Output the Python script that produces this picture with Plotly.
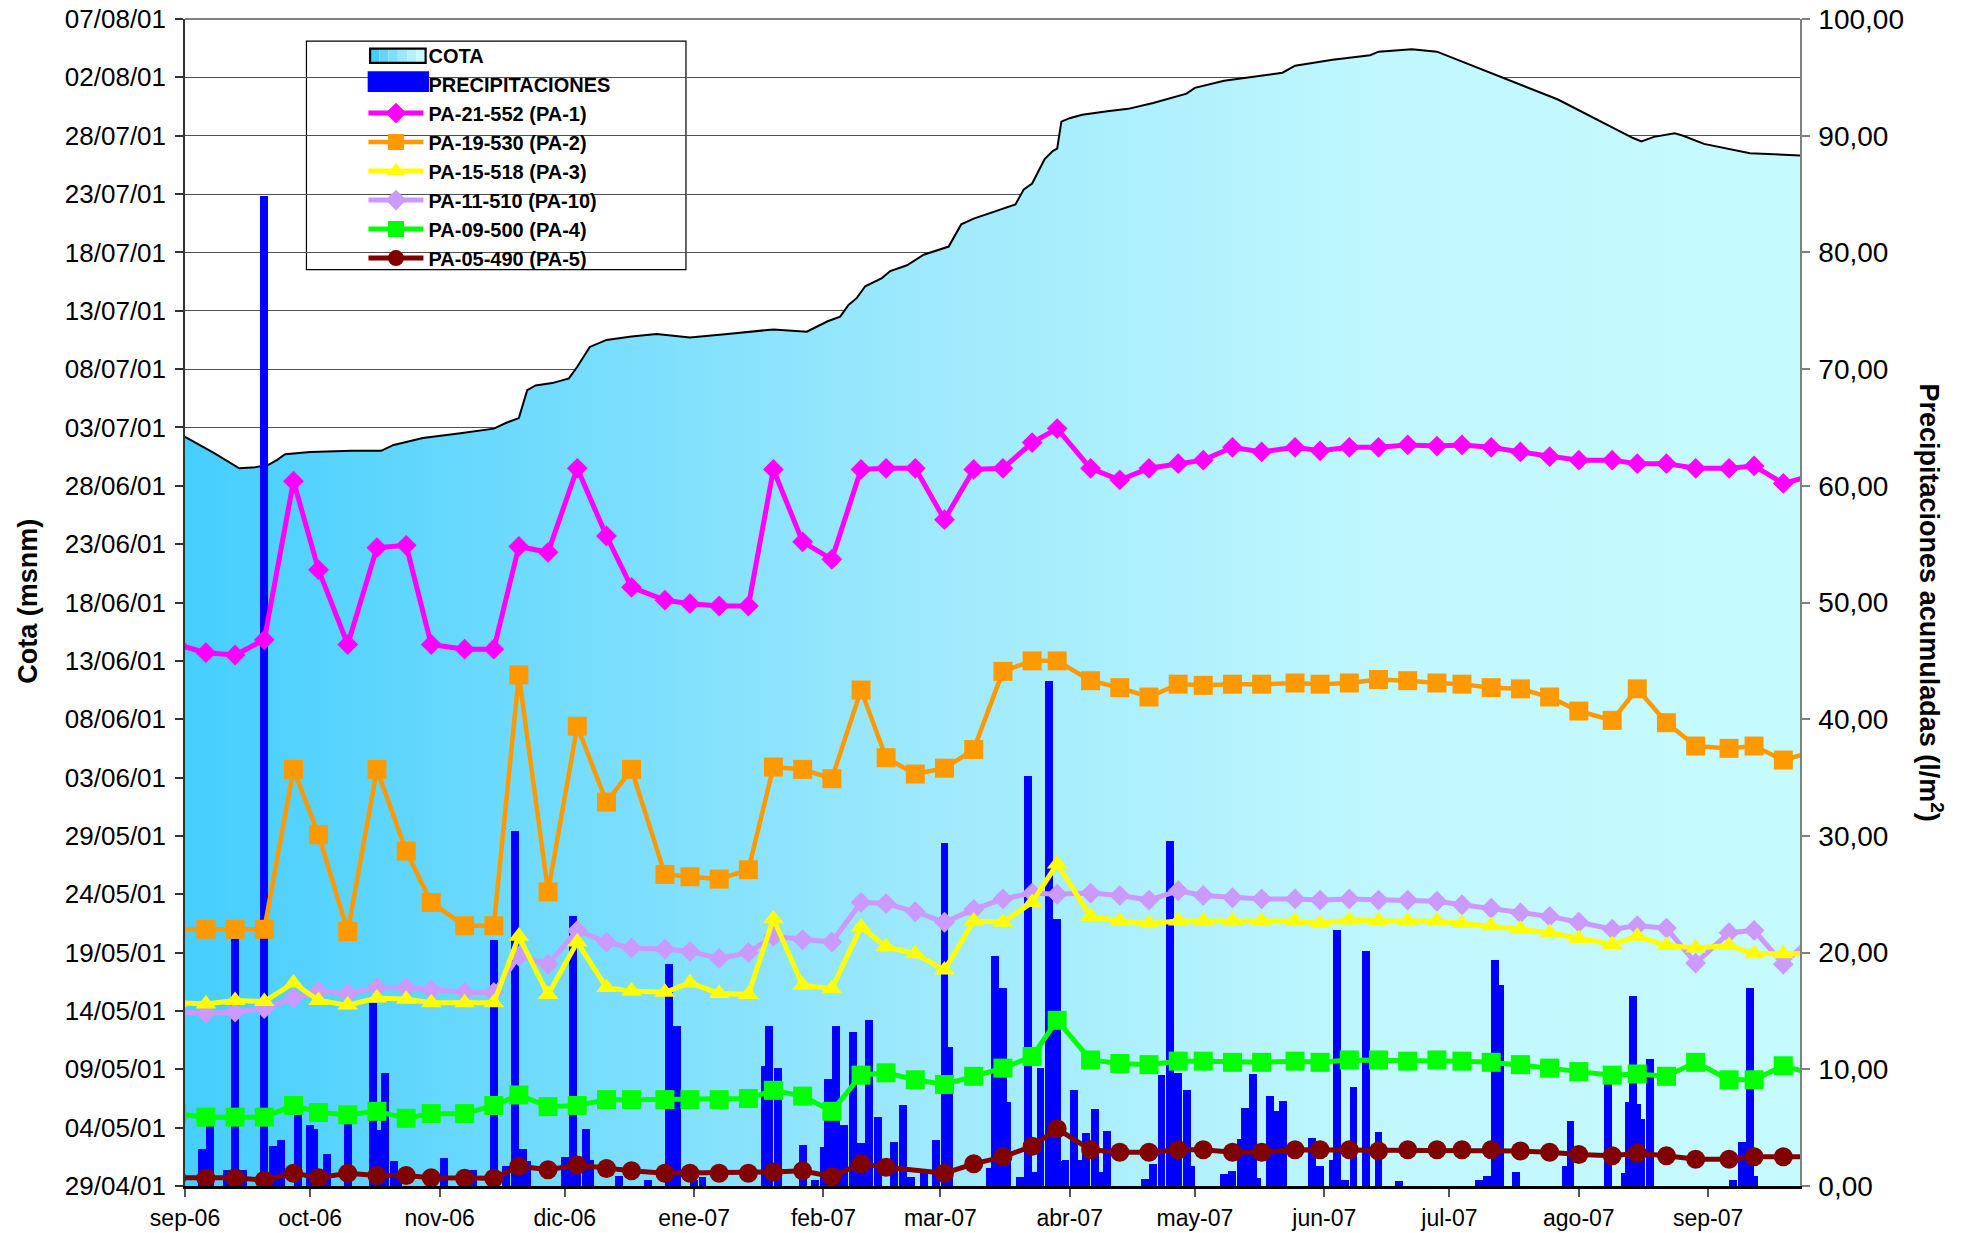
import plotly.graph_objects as go

# ---------------- axis labels ----------------
month_ticks = ["2006-09-01", "2006-10-01", "2006-11-01", "2006-12-01", "2007-01-01", "2007-02-01",
               "2007-03-01", "2007-04-01", "2007-05-01", "2007-06-01", "2007-07-01", "2007-08-01",
               "2007-09-01"]
month_labels = ["sep-06", "oct-06", "nov-06", "dic-06", "ene-07", "feb-07", "mar-07", "abr-07",
                "may-07", "jun-07", "jul-07", "ago-07", "sep-07"]

cota_ticks = [37010, 37015, 37020, 37025, 37030, 37035, 37040, 37045, 37050, 37055, 37060,
              37065, 37070, 37075, 37080, 37085, 37090, 37095, 37100, 37105, 37110]
cota_labels = ["29/04/01", "04/05/01", "09/05/01", "14/05/01", "19/05/01", "24/05/01", "29/05/01",
               "03/06/01", "08/06/01", "13/06/01", "18/06/01", "23/06/01", "28/06/01", "03/07/01",
               "08/07/01", "13/07/01", "18/07/01", "23/07/01", "28/07/01", "02/08/01", "07/08/01"]

precip_ticks = [0, 10, 20, 30, 40, 50, 60, 70, 80, 90, 100]

# ---------------- COTA (reservoir level) ----------------
cota_dates = ["2006-09-01", "2006-09-08", "2006-09-14", "2006-09-18", "2006-09-21", "2006-09-23",
              "2006-09-25", "2006-10-01", "2006-10-11", "2006-10-18", "2006-10-21", "2006-10-28",
              "2006-11-06", "2006-11-14", "2006-11-17", "2006-11-20", "2006-11-22", "2006-11-24",
              "2006-11-28", "2006-12-02", "2006-12-04", "2006-12-07", "2006-12-11", "2006-12-17",
              "2006-12-23", "2006-12-26", "2006-12-31", "2007-01-09", "2007-01-20", "2007-01-28",
              "2007-02-02", "2007-02-05", "2007-02-07", "2007-02-09", "2007-02-11", "2007-02-15",
              "2007-02-17", "2007-02-21", "2007-02-25", "2007-03-03", "2007-03-06", "2007-03-09",
              "2007-03-19", "2007-03-21", "2007-03-23", "2007-03-26", "2007-03-28", "2007-03-29",
              "2007-03-30", "2007-04-01", "2007-04-04", "2007-04-10", "2007-04-15", "2007-04-21",
              "2007-04-29", "2007-05-01", "2007-05-08", "2007-05-22", "2007-05-25", "2007-06-03",
              "2007-06-12", "2007-06-14", "2007-06-22", "2007-06-28", "2007-07-05", "2007-07-12",
              "2007-07-25", "2007-07-27", "2007-08-14", "2007-08-16", "2007-08-19", "2007-08-24",
              "2007-08-26", "2007-08-31", "2007-09-11", "2007-09-16", "2007-09-23"]
cota_values = [37074.2, 37072.8, 37071.5, 37071.6, 37071.8, 37072.2, 37072.7, 37072.9, 37073.0,
               37073.0, 37073.5, 37074.1, 37074.5, 37074.9, 37075.4, 37075.8, 37078.2, 37078.6,
               37078.8, 37079.2, 37080.2, 37081.9, 37082.5, 37082.8, 37083.0, 37082.9, 37082.7,
               37083.0, 37083.4, 37083.2, 37084.1, 37084.5, 37085.5, 37086.1, 37087.1, 37087.8,
               37088.4, 37088.9, 37089.8, 37090.5, 37092.4, 37092.9, 37094.1, 37095.4, 37095.9,
               37098.0, 37098.7, 37098.9, 37101.2, 37101.5, 37101.8, 37102.1, 37102.3, 37102.8,
               37103.6, 37104.1, 37104.7, 37105.4, 37106.0, 37106.5, 37106.9, 37107.2, 37107.4,
               37107.2, 37106.2, 37105.2, 37103.4, 37103.1, 37099.8, 37099.5, 37099.9, 37100.2,
               37100.0, 37099.3, 37098.5, 37098.4, 37098.3]

# ---------------- Daily precipitation (l/m2) ----------------
precip_dates = ["2006-09-05", "2006-09-07", "2006-09-11", "2006-09-13", "2006-09-15", "2006-09-20",
                "2006-09-22", "2006-09-24", "2006-09-28", "2006-10-01", "2006-10-02", "2006-10-04",
                "2006-10-05", "2006-10-10", "2006-10-16", "2006-10-17", "2006-10-19", "2006-10-21",
                "2006-10-22", "2006-11-02", "2006-11-09", "2006-11-14", "2006-11-17", "2006-11-19",
                "2006-11-21", "2006-11-22", "2006-12-01", "2006-12-03", "2006-12-04", "2006-12-06",
                "2006-12-07", "2006-12-14", "2006-12-21", "2006-12-26", "2006-12-28", "2007-01-01",
                "2007-01-03", "2007-01-18", "2007-01-19", "2007-01-21", "2007-01-27", "2007-01-30",
                "2007-02-01", "2007-02-02", "2007-02-04", "2007-02-06", "2007-02-08", "2007-02-10",
                "2007-02-12", "2007-02-14", "2007-02-18", "2007-02-20", "2007-02-22", "2007-02-25",
                "2007-02-28", "2007-03-02", "2007-03-03", "2007-03-13", "2007-03-14", "2007-03-16",
                "2007-03-17", "2007-03-20", "2007-03-22", "2007-03-24", "2007-03-25", "2007-03-27",
                "2007-03-29", "2007-03-30", "2007-03-31", "2007-04-02", "2007-04-04", "2007-04-05",
                "2007-04-07", "2007-04-08", "2007-04-10", "2007-04-19", "2007-04-21", "2007-04-23",
                "2007-04-25", "2007-04-26", "2007-04-27", "2007-04-29", "2007-04-30", "2007-05-08",
                "2007-05-10", "2007-05-12", "2007-05-13", "2007-05-15", "2007-05-16", "2007-05-19",
                "2007-05-21", "2007-05-22", "2007-05-29", "2007-05-31", "2007-06-03", "2007-06-04",
                "2007-06-06", "2007-06-08", "2007-06-11", "2007-06-14", "2007-06-19", "2007-07-08",
                "2007-07-10", "2007-07-12", "2007-07-13", "2007-07-17", "2007-07-29", "2007-07-30",
                "2007-08-08", "2007-08-12", "2007-08-13", "2007-08-14", "2007-08-15", "2007-08-16",
                "2007-08-18", "2007-09-07", "2007-09-09", "2007-09-11", "2007-09-12"]
precip_values = [3.2, 5.1, 1.4, 21.2, 1.4, 84.8,
                 3.4, 3.9, 7.4, 5.2, 4.9, 0.8,
                 2.7, 5.5, 15.7, 4.8, 9.7, 2.1,
                 0.8, 2.4, 1.4, 21.1, 1.7, 30.4,
                 3.2, 2.1, 2.5, 23.1, 2.5, 4.9,
                 2.2, 0.9, 0.5, 19.0, 13.7, 0.5,
                 0.8, 10.3, 13.7, 10.1, 3.5, 0.5,
                 3.3, 9.2, 13.7, 5.2, 13.2, 3.7,
                 14.2, 5.9, 3.8, 6.9, 0.8, 1.1,
                 3.9, 29.4, 11.9, 1.5, 19.7, 17.0,
                 7.2, 0.8, 35.1, 1.2, 10.1, 43.3,
                 22.9, 2.1, 2.2, 8.2, 2.2, 4.5,
                 6.6, 1.2, 4.7, 0.6, 1.9, 9.5,
                 29.6, 8.7, 9.7, 8.2, 1.7, 1.0,
                 1.3, 4.0, 6.7, 9.6, 0.7, 7.7,
                 6.4, 7.3, 4.1, 1.7, 2.2, 21.9,
                 0.5, 8.5, 20.1, 4.6, 0.4, 0.5,
                 0.9, 19.4, 17.2, 1.2, 1.7, 5.6,
                 8.9, 1.1, 7.2, 16.3, 7.0, 5.7,
                 10.9, 0.5, 3.8, 17.0, 0.9]

# ---------------- Piezometer readings (same scale as COTA) ----------------
piezo_dates = ["2006-08-30", "2006-09-06", "2006-09-13", "2006-09-20", "2006-09-27", "2006-10-03",
               "2006-10-10", "2006-10-17", "2006-10-24", "2006-10-30", "2006-11-07", "2006-11-14",
               "2006-11-20", "2006-11-27", "2006-12-04", "2006-12-11", "2006-12-17", "2006-12-25",
               "2006-12-31", "2007-01-07", "2007-01-14", "2007-01-20", "2007-01-27", "2007-02-03",
               "2007-02-10", "2007-02-16", "2007-02-23", "2007-03-02", "2007-03-09", "2007-03-16",
               "2007-03-23", "2007-03-29", "2007-04-06", "2007-04-13", "2007-04-20", "2007-04-27",
               "2007-05-03", "2007-05-10", "2007-05-17", "2007-05-25", "2007-05-31", "2007-06-07",
               "2007-06-14", "2007-06-21", "2007-06-28", "2007-07-04", "2007-07-11", "2007-07-18",
               "2007-07-25", "2007-08-01", "2007-08-09", "2007-08-15", "2007-08-22", "2007-08-29",
               "2007-09-06", "2007-09-12", "2007-09-19", "2007-09-26"]

pa1_values = [37056.4, 37055.7, 37055.5, 37056.8, 37070.4, 37062.8, 37056.4, 37064.7, 37064.9,
              37056.4, 37056.0, 37056.0, 37064.8, 37064.3, 37071.5, 37065.7, 37061.3, 37060.2,
              37059.9, 37059.7, 37059.7, 37071.4, 37065.2, 37063.7, 37071.4, 37071.5, 37071.5,
              37067.1, 37071.4, 37071.5, 37073.7, 37074.9, 37071.5, 37070.5, 37071.5, 37071.9,
              37072.2, 37073.3, 37072.9, 37073.3, 37073.0, 37073.3, 37073.3, 37073.5, 37073.4,
              37073.5, 37073.3, 37072.9, 37072.5, 37072.2, 37072.2, 37071.9, 37071.9, 37071.5,
              37071.5, 37071.7, 37070.2, 37070.9]
pa2_values = [37032.0, 37032.0, 37032.0, 37032.0, 37045.7, 37040.1, 37031.8, 37045.7, 37038.7,
              37034.3, 37032.3, 37032.3, 37053.8, 37035.2, 37049.4, 37042.9, 37045.7, 37036.7,
              37036.5, 37036.3, 37037.1, 37045.9, 37045.7, 37044.9, 37052.5, 37046.7, 37045.3,
              37045.8, 37047.4, 37054.1, 37055.0, 37055.0, 37053.3, 37052.7, 37051.9, 37053.0,
              37052.9, 37053.0, 37053.0, 37053.1, 37053.0, 37053.1, 37053.4, 37053.3, 37053.1,
              37053.0, 37052.7, 37052.6, 37051.9, 37050.7, 37049.9, 37052.6, 37049.7, 37047.7,
              37047.5, 37047.7, 37046.5, 37047.2]
pa3_values = [37025.7, 37025.6, 37025.9, 37025.8, 37027.4, 37025.9, 37025.5, 37026.1, 37026.0,
              37025.7, 37025.7, 37025.7, 37031.4, 37026.4, 37030.9, 37027.0, 37026.7, 37026.6,
              37027.4, 37026.5, 37026.4, 37032.9, 37027.2, 37026.9, 37032.2, 37030.5, 37029.9,
              37028.5, 37032.7, 37032.6, 37034.3, 37037.6, 37033.1, 37032.7, 37032.5, 37032.7,
              37032.7, 37032.7, 37032.7, 37032.7, 37032.5, 37032.8, 37032.7, 37032.7, 37032.7,
              37032.5, 37032.3, 37032.0, 37031.7, 37031.2, 37030.7, 37031.4, 37030.6, 37030.4,
              37030.6, 37029.9, 37029.9, 37029.9]
pa10_values = [37024.9, 37024.8, 37024.9, 37025.2, 37026.1, 37026.7, 37026.5, 37027.0, 37027.0,
               37026.8, 37026.6, 37026.6, 37029.7, 37029.0, 37031.9, 37030.9, 37030.4, 37030.3,
               37030.1, 37029.5, 37030.0, 37031.4, 37031.1, 37030.9, 37034.3, 37034.2, 37033.5,
               37032.6, 37033.7, 37034.6, 37035.1, 37035.0, 37035.1, 37034.9, 37034.5, 37035.3,
               37034.9, 37034.7, 37034.6, 37034.6, 37034.5, 37034.6, 37034.5, 37034.5, 37034.4,
               37034.1, 37033.8, 37033.4, 37033.1, 37032.6, 37032.0, 37032.3, 37032.1, 37029.1,
               37031.7, 37031.9, 37029.0, 37031.4]
pa4_values = [37016.2, 37015.9, 37015.9, 37015.9, 37016.9, 37016.3, 37016.1, 37016.4, 37015.8,
              37016.2, 37016.2, 37016.9, 37017.8, 37016.8, 37016.9, 37017.4, 37017.4, 37017.4,
              37017.4, 37017.4, 37017.5, 37018.2, 37017.7, 37016.4, 37019.5, 37019.7, 37019.1,
              37018.7, 37019.4, 37020.1, 37021.1, 37024.2, 37020.8, 37020.5, 37020.4, 37020.7,
              37020.7, 37020.6, 37020.6, 37020.7, 37020.6, 37020.8, 37020.8, 37020.7, 37020.8,
              37020.7, 37020.6, 37020.4, 37020.1, 37019.8, 37019.5, 37019.6, 37019.4, 37020.6,
              37019.1, 37019.1, 37020.3, 37019.6]
pa5_values = [37010.7, 37010.66, 37010.7, 37010.5, 37011.1, 37010.7, 37011.1, 37010.9, 37010.9,
              37010.7, 37010.66, 37010.66, 37011.7, 37011.4, 37011.8, 37011.5, 37011.3, 37011.1,
              37011.1, 37011.1, 37011.1, 37011.2, 37011.3, 37010.8, 37011.9, 37011.6, None,
              37011.1, 37011.9, 37012.5, 37013.4, 37014.9, 37013.1, 37012.9, 37012.9, 37013.1,
              37013.1, 37012.9, 37012.9, 37013.1, 37013.1, 37013.1, 37013.0, 37013.1, 37013.1,
              37013.1, 37013.1, 37013.0, 37012.9, 37012.7, 37012.6, 37012.8, 37012.6, 37012.3,
              37012.3, 37012.5, 37012.5, 37012.5]

FONT = "Liberation Sans, Arial, sans-serif"
DAY_MS = 86400000
GRAD = ["#46CEFD", "#62D6FD", "#7EDFFC", "#9AE8FC", "#B2F1FD", "#C6FBFE"]

fig = go.Figure()

# COTA area (left axis, bottom layer)
fig.add_trace(go.Scatter(
    x=cota_dates, y=cota_values, name="COTA", mode="lines", yaxis="y",
    line=dict(color="black", width=2),
    fill="tozeroy",
    fillgradient=dict(type="horizontal",
                      colorscale=[[0.0, "#46CEFD"], [0.45, "#9DE9FC"],
                                  [0.75, "#C1F8FE"], [1.0, "#C6FBFE"]]),
    showlegend=False,
))

# Precipitation bars (right axis)
fig.add_trace(go.Bar(
    x=precip_dates, y=precip_values, name="PRECIPITACIONES", yaxis="y2",
    width=1.9 * DAY_MS, marker=dict(color="#0000FF", line=dict(width=0)),
    showlegend=False,
))

# legend entries for the two area/bar series (their swatches are drawn as shapes below)
for nm, rank in [("COTA", 1), ("PRECIPITACIONES", 2)]:
    fig.add_trace(go.Scatter(x=[None], y=[None], name=nm, mode="lines", yaxis="y3",
                             line=dict(color="rgba(0,0,0,0)", width=0), legendrank=rank,
                             hoverinfo="skip"))

series = [
    ("PA-21-552 (PA-1)", pa1_values, "#FF00FF", "diamond", 16, 5.0, 3),
    ("PA-19-530 (PA-2)", pa2_values, "#FF9900", "square", 19, 4.5, 4),
    ("PA-11-510 (PA-10)", pa10_values, "#CC99FF", "diamond", 16, 5.0, 6),
    ("PA-15-518 (PA-3)", pa3_values, "#FFFF00", "triangle-up", 18, 5.0, 5),
    ("PA-09-500 (PA-4)", pa4_values, "#00FF00", "square", 19, 5.0, 7),
    ("PA-05-490 (PA-5)", pa5_values, "#800000", "circle", 19, 5.0, 8),
]
for name, vals, color, sym, size, lw, rank in series:
    fig.add_trace(go.Scatter(
        x=piezo_dates, y=vals, name=name, mode="lines+markers", yaxis="y3",
        connectgaps=True,
        line=dict(color=color, width=lw),
        marker=dict(symbol=sym, size=size, color=color, line=dict(width=0)),
        legendrank=rank,
    ))

# top border gridline, legend frame and custom swatches (paper coordinates)
shapes = [
    dict(type="line", xref="paper", yref="paper", x0=0, x1=1, y0=1, y1=1,
         line=dict(color="#808080", width=2), layer="between"),
    dict(type="rect", xref="paper", yref="paper",
         x0=0.0752, x1=0.3102, y0=0.7852, y1=0.981,
         line=dict(color="black", width=1.2), fillcolor="white", layer="between"),
]
cx0, cx1, cy0, cy1 = 0.1146, 0.1490, 0.9624, 0.9746
n = len(GRAD)
for i, col in enumerate(GRAD):
    shapes.append(dict(type="rect", xref="paper", yref="paper",
                       x0=cx0 + (cx1 - cx0) * i / n, x1=cx0 + (cx1 - cx0) * (i + 1) / n,
                       y0=cy0, y1=cy1, line=dict(width=0), fillcolor=col, layer="above"))
shapes.append(dict(type="rect", xref="paper", yref="paper", x0=cx0, x1=cx1, y0=cy0, y1=cy1,
                   line=dict(color="black", width=2.2), fillcolor="rgba(0,0,0,0)",
                   layer="above"))
shapes.append(dict(type="rect", xref="paper", yref="paper", x0=0.1131, x1=0.1511,
                   y0=0.9375, y1=0.9552, line=dict(width=0), fillcolor="#0000FF",
                   layer="above"))

fig.update_layout(
    width=1970, height=1233,
    margin=dict(l=185, r=170, t=19, b=47, autoexpand=False),
    paper_bgcolor="white", plot_bgcolor="white",
    separators=",.",
    font=dict(family=FONT, color="black"),
    bargap=0,
    showlegend=True,
    legend=dict(x=0.1105, y=0.9858, xanchor="left", yanchor="top",
                bgcolor="rgba(0,0,0,0)", borderwidth=0,
                font=dict(family=FONT, size=20, color="black", weight="bold"),
                itemwidth=55, traceorder="normal"),
    xaxis=dict(type="date", range=["2006-09-01", "2007-09-23"],
               tickvals=month_ticks, ticktext=month_labels,
               ticks="outside", ticklen=8, tickcolor="#555555", tickwidth=1.5,
               showline=True, linecolor="black", linewidth=2.5,
               showgrid=False, zeroline=False, automargin=False,
               tickfont=dict(family=FONT, size=23, color="black"),
               ticklabelstandoff=2),
    yaxis=dict(range=[37010, 37110], tickvals=cota_ticks, ticktext=cota_labels,
               ticks="outside", ticklen=8, tickcolor="#333333", tickwidth=1.5,
               showline=True, linecolor="#333333", linewidth=1.5,
               showgrid=True, gridcolor="#505050", gridwidth=1,
               zeroline=False, automargin=False, ticklabeloverflow="allow",
               tickfont=dict(family=FONT, size=26, color="black"),
               ticklabelstandoff=4),
    yaxis2=dict(overlaying="y", side="right", range=[0, 100], tickvals=precip_ticks,
                tickformat=".2f", ticks="outside", ticklen=8, tickcolor="#808080",
                tickwidth=1.5, showline=True, linecolor="#808080", linewidth=1.5,
                showgrid=False, zeroline=False, automargin=False,
                ticklabeloverflow="allow",
                tickfont=dict(family=FONT, size=28, color="black"),
                ticklabelstandoff=3),
    yaxis3=dict(overlaying="y", range=[37010, 37110], visible=False),
    shapes=shapes,
    annotations=[
        dict(text="<b>Cota (msnm)</b>", xref="paper", yref="paper", x=-0.0972, y=0.5006,
             xanchor="center", yanchor="middle", textangle=-90, showarrow=False,
             font=dict(family=FONT, size=27, color="black")),
        dict(text="<b>Precipitaciones acumuladas (l/m<sup>2</sup>)</b>", xref="paper",
             yref="paper", x=1.0817, y=0.5, xanchor="center", yanchor="middle",
             textangle=90, showarrow=False,
             font=dict(family=FONT, size=27, color="black")),
    ],
)

# remove the default page margin so the 1970x1233 figure fills the window exactly
fig.write_html("out.html",
               config={"displayModeBar": False},
               post_script="document.body.style.margin='0';document.body.style.overflow='hidden';")
